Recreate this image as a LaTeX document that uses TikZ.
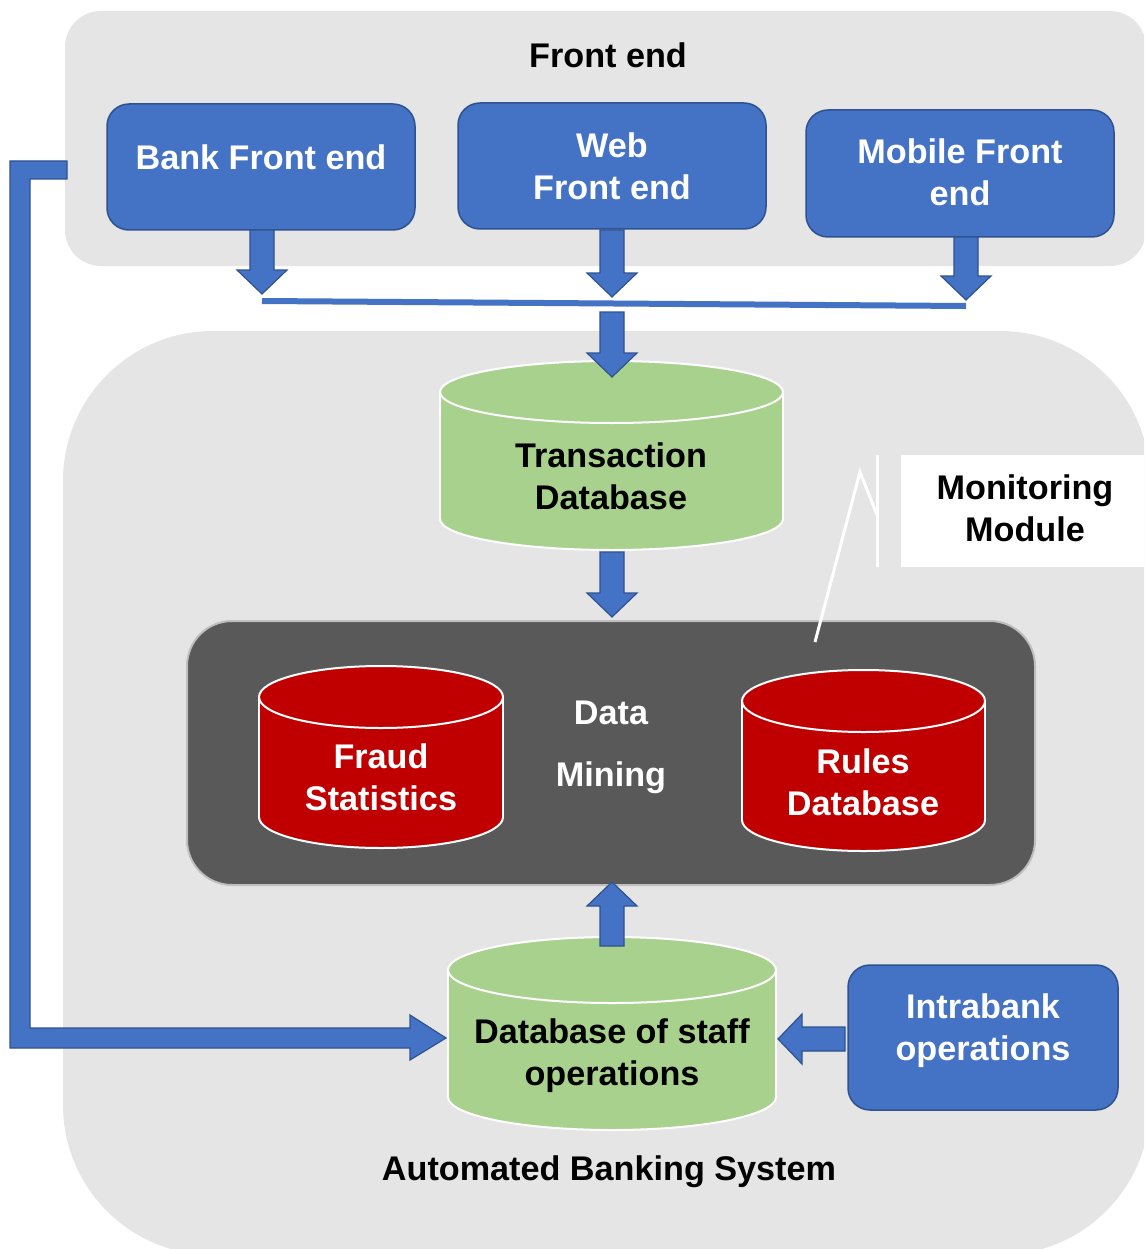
\documentclass[tikz,border=0pt]{standalone}
\usepackage{fontspec}
\setmainfont{Liberation Sans}
\usetikzlibrary{calc}
\definecolor{blu}{HTML}{4472C4}
\definecolor{bluD}{HTML}{2F528F}
\definecolor{grn}{HTML}{A9D18E}
\definecolor{rd}{HTML}{C00000}
\definecolor{dk}{HTML}{595959}
\definecolor{dkB}{HTML}{BFBFBF}
\definecolor{pan}{HTML}{E5E5E5}
\tikzset{
 txt/.style={font=\fontsize{34.2}{42}\selectfont\bfseries, align=center, inner sep=0pt},
 wtxt/.style={txt, text=white},
 btxt/.style={txt, text=black},
 bluebox/.style={draw=bluD, fill=blu, line width=1.5pt, rounded corners=22pt, inner sep=0pt},
 blk/.style={draw=bluD, fill=blu, line width=1.2pt, line join=miter},
 dnarrow/.pic={\draw[blk] (-12,0) -- (12,0) -- (12,{#1-24}) -- (25,{#1-24}) -- (0,{#1}) -- (-25,{#1-24}) -- (-12,{#1-24}) -- cycle;},
}
\newcommand\dbcyl[6]{%
 \draw[draw=white, line width=2pt, fill=#6] (#1,#3) ellipse [x radius=#4, y radius=#5];
 \fill[#6] ({#1-#4},#2) rectangle ({#1+#4},#3);
 \draw[white, line width=2pt] ({#1-#4},#2) -- ({#1-#4},#3) ({#1+#4},#2) -- ({#1+#4},#3);
 \draw[draw=white, line width=2pt, fill=#6] (#1,#2) ellipse [x radius=#4, y radius=#5];
}
\begin{document}
\begin{tikzpicture}[x=1pt,y=-1pt]
\useasboundingbox (0,0) rectangle (1144,1249);
\clip (0,0) rectangle (1144,1249);
% panels
\fill[pan, rounded corners=36pt] (65,11) rectangle (1146,266);
\fill[pan, rounded corners=150pt] (63,331) rectangle (1150,1255);
% monitoring module
\fill[white] (901,455) rectangle (1150,567);
\node[btxt] (mon) at (1025,508) {Monitoring\\Module};
\draw[white, line width=3pt] (877,455) -- (877,567);
% data mining box
\node[draw=dkB, fill=dk, line width=2pt, rounded corners=45pt, minimum width=848pt, minimum height=264pt] (dm) at (611,753) {};
% callout line
\coordinate (cA) at (815,642);
\coordinate (cB) at (860,472);
\coordinate (cC) at (877,515);
\draw[white, line width=3pt, line join=miter] (cA) -- (cB) -- (cC);
% cylinders
\dbcyl{611.5}{392}{519}{171.5}{31}{grn}
\dbcyl{381}{697}{817}{122}{31}{rd}
\dbcyl{863.5}{701}{820}{121.5}{31}{rd}
\dbcyl{612}{970}{1097}{164}{33}{grn}
\node[btxt] (trans) at (611,476) {Transaction\\Database};
\node[wtxt] (fraud) at (381,777) {Fraud\\Statistics};
\node[wtxt] (rules) at (863,782) {Rules\\Database};
\node[btxt] (staff) at (612,1056) {Database of staff\\operations};
\node[wtxt] (data) at (611,713) {Data};
\node[wtxt] (mining) at (611,778) {Mining};
% blue boxes
\node[bluebox, minimum width=308pt, minimum height=126pt] (bank) at (261,167) {};
\node[wtxt] (banktxt) at (261,157) {Bank Front end};
\node[bluebox, minimum width=308pt, minimum height=126pt] (web) at (612,166) {};
\node[wtxt] (webtxt) at (612,166) {Web\\Front end};
\node[bluebox, minimum width=308pt, minimum height=127pt] (mob) at (960,173.5) {};
\node[wtxt] (mobtxt) at (960,172) {Mobile Front\\end};
\node[bluebox, minimum width=270pt, minimum height=145pt] (intra) at (983,1037.5) {};
\node[wtxt] (intratxt) at (983,1031) {Intrabank\\operations};
% connectors
\pic at (262,230) {dnarrow=64};
\pic at (612,230) {dnarrow=67};
\pic at (966,237) {dnarrow=63};
\coordinate (hl1) at (262,301);
\coordinate (hl2) at (966,306);
\draw[blu, line width=6pt] (hl1) -- (hl2);
\pic at (612,312) {dnarrow=65};
\pic at (612,552) {dnarrow=65};
\pic[rotate=180] at (612,946) {dnarrow=64};
\pic[rotate=-90] at (845,1039) {dnarrow=67};
\draw[blk] (67,161) -- (10,161) -- (10,1048) -- (410,1048) -- (410,1060) -- (446,1038) -- (410,1015) -- (410,1028) -- (30,1028) -- (30,179) -- (67,179) -- cycle;
% titles
\node[btxt] (fe) at (608,55) {Front end};
\node[btxt] (abs) at (609,1172) {Automated Banking System};
\end{tikzpicture}
\end{document}
